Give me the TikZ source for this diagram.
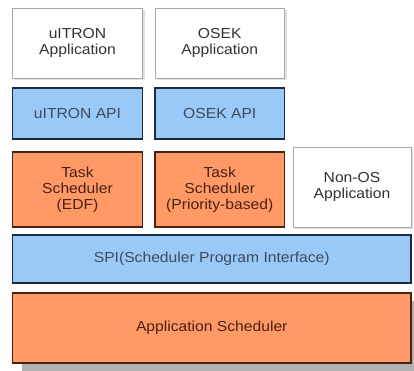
\documentclass[tikz,border=0pt]{standalone}
\usepackage{fontspec}
\setmainfont[FakeStretch=1.08]{Liberation Sans}
\usetikzlibrary{shadows}

\definecolor{schedorange}{HTML}{FF9A66}
\definecolor{apiblue}{HTML}{99C9F7}
\definecolor{darkbrown}{HTML}{4A2014}
\definecolor{darknavy}{HTML}{1C2A40}
\definecolor{boxgray}{HTML}{A8A8A8}
\definecolor{textgray}{HTML}{333333}

\begin{document}
\begin{tikzpicture}[x=1pt,y=-1pt]
		\useasboundingbox (0,0) rectangle (414,370);
		\begin{scope}[shape=rectangle,inner sep=0pt,align=center]
		\tikzstyle{every node}=[font=\fontsize{14.5}{16}\selectfont]
		\tikzstyle{appbox}=[draw=boxgray,fill=white,line width=1pt,text=textgray,
			drop shadow={shadow xshift=2pt,shadow yshift=-2pt,fill=gray!25,opacity=1}]
		\tikzstyle{apibox}=[draw=darknavy,fill=apiblue,line width=1.6pt,text=darknavy!85]
		\tikzstyle{schedbox}=[draw=darkbrown,fill=schedorange,line width=1.6pt,text=darkbrown]
		% top row
		\node[appbox,minimum width=130,minimum height=70] (uapp) at (77.5,43) {uITRON\\Application};
		\node[appbox,minimum width=129.5,minimum height=70] (oapp) at (219.75,43) {OSEK\\Application};
		% api row
		\node[apibox,minimum width=130,minimum height=51] (uapi) at (77.5,113.5) {uITRON API};
		\node[apibox,minimum width=129.5,minimum height=51] (oapi) at (219.75,113.5) {OSEK API};
		% task schedulers
		\node[schedbox,minimum width=130,minimum height=75] (edf) at (77.5,189.5) {Task\\Scheduler\\(EDF)};
		\node[schedbox,minimum width=129.5,minimum height=75] (prio) at (219.75,189.5) {Task\\Scheduler\\(Priority-based)};
		\node[appbox,minimum width=118,minimum height=80] (nonos) at (352,187) {Non-OS\\Application};
		% lower layers
		\node[apibox,minimum width=398.5,minimum height=48] (spi) at (211.75,259) {SPI(Scheduler Program Interface)};
		\node[schedbox,minimum width=398.5,minimum height=70,
			drop shadow={shadow xshift=9pt,shadow yshift=-8pt,fill=gray!60,opacity=1}] (appsched) at (211.75,328) {Application Scheduler};
		\end{scope}
\end{tikzpicture}
\end{document}
